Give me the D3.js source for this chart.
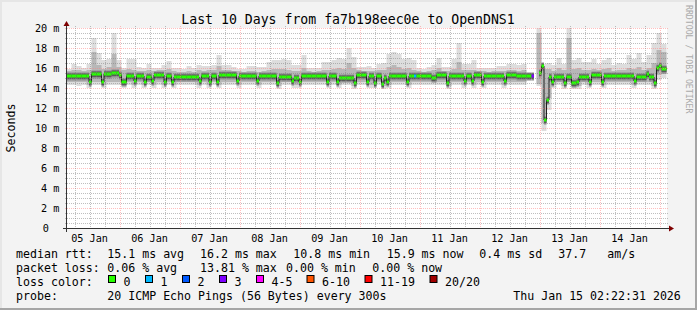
<!DOCTYPE html>
<html><head><meta charset="utf-8">
<script src="https://cdn.jsdelivr.net/npm/d3@7/dist/d3.min.js"></script>
<style>
html,body{margin:0;padding:0;background:#f3f3f3;}
svg{display:block;}
text{font-family:"DejaVu Sans Mono",monospace;fill:#000;}
</style></head><body>
<svg id="c" width="697" height="310"></svg>
<script>
// ---------------- data ----------------
const title = "Last 10 Days from fa7b198eec0e to OpenDNS1";
const startTime = new Date(2026, 0, 5, 2, 22, 31);
const endTime = new Date(2026, 0, 15, 2, 22, 31);
const yTickValues = [0, 2, 4, 6, 8, 10, 12, 14, 16, 18, 20];
const yTickLabels = ["0", "2 m", "4 m", "6 m", "8 m", "10 m", "12 m", "14 m", "16 m", "18 m", "20 m"];
const dayLabels = ["05 Jan", "06 Jan", "07 Jan", "08 Jan", "09 Jan", "10 Jan", "11 Jan", "12 Jan", "13 Jan", "14 Jan"];

// median rtt in ms, one value per hour (240 h)
const medianRtt = [
15.2,15.2,15.2,15.2,15.2,15.2,15.2,15.2,15.2,14.6,15.4,15.4,15.4,15.4,14.6,15.4,15.4,15.4,15.5,15.5,
15.5,15.3,14.6,14.6,15.2,15.2,15.2,14.7,15.2,15.2,15.2,14.6,15.1,15.1,14.7,15.3,15.3,15.3,15.3,14.6,
15.2,15.2,14.6,15.1,15.1,15.1,15.1,15.1,15.1,15.1,15.1,15.1,15.1,14.7,15.2,15.2,15.2,14.6,15.2,15.2,
14.6,15.3,15.3,15.3,15.3,15.3,15.3,15.3,14.7,15.2,15.2,15.2,15.2,15.2,15.2,15.2,14.7,15.2,15.2,15.2,
15.2,15.2,15.2,15.2,14.5,15.1,15.1,15.1,15.1,15.1,14.7,15.0,15.0,14.6,15.2,15.2,15.2,15.2,15.2,15.2,
15.2,15.2,15.2,15.2,14.6,15.2,15.2,15.2,14.6,15.0,15.0,15.0,15.0,15.0,15.0,14.5,15.3,15.3,15.3,15.3,
14.6,15.2,15.2,14.5,15.2,15.2,14.4,15.0,14.6,15.2,15.2,15.2,15.2,15.2,15.2,15.2,14.6,15.2,15.2,15.2,
15.2,15.2,15.2,15.2,15.2,15.2,15.0,15.0,15.3,15.3,15.3,15.3,14.5,15.2,15.2,15.2,15.2,15.2,15.2,14.7,
15.2,15.2,14.7,15.3,15.3,15.3,14.6,15.2,15.2,15.2,15.2,15.2,15.2,15.2,15.2,14.7,15.3,15.3,15.3,15.3,
15.2,15.2,15.2,15.2,15.2,15.2,15.2,null,null,15.5,16.2,10.8,12.8,15.1,14.6,15.1,15.1,15.1,15.1,14.5,
15.1,15.1,14.5,14.5,14.6,15.1,15.1,15.1,15.1,14.6,15.3,15.3,15.3,15.3,14.6,15.2,15.2,15.2,15.2,15.2,
15.2,15.2,15.2,15.2,15.2,15.2,15.2,14.7,15.1,15.1,15.1,15.1,15.4,15.1,15.1,14.5,16.0,16.2,15.9,15.9
];
// hours with packet loss (lost pings out of 20); all other hours: 0
const lossHours = [139, 186];
const lossCounts = [1, 3];

// smoke, one value per 2 hours (120 buckets), ms
const smokeMax = [
15.9,16.4,16.2,16.0,16.4,19.0,17.5,16.8,16.9,19.5,16.8,16.0,16.9,16.9,16.1,16.0,16.4,16.0,16.0,16.3,
16.7,16.0,16.0,15.9,16.2,16.0,16.3,16.2,16.2,16.3,17.3,16.3,16.3,16.1,15.9,15.9,16.2,16.2,16.1,16.1,
16.6,16.8,16.8,16.9,16.8,16.3,16.3,17.3,16.0,16.0,16.0,16.6,16.6,16.8,17.0,16.9,18.0,17.1,16.1,16.1,
16.2,16.0,16.4,16.5,17.4,17.6,17.4,16.9,17.0,16.8,16.0,15.9,16.1,16.3,17.0,16.1,16.1,16.9,18.5,16.4,
16.4,16.8,16.0,16.0,16.0,16.0,16.2,16.2,16.4,16.4,16.3,16.4,16.1,null,20.0,16.4,16.5,16.3,17.0,16.4,
20.0,16.8,17.0,16.6,16.6,16.9,16.4,16.8,17.0,16.3,16.5,16.4,17.3,16.9,17.5,16.6,17.3,18.5,19.5,18.4
];
const smokeHi = [
15.7,15.8,15.8,15.7,15.8,17.6,16.3,15.9,16.1,17.4,16.1,15.8,15.9,15.8,15.7,15.7,15.8,15.7,15.8,15.8,
15.9,15.7,15.6,15.6,15.7,15.6,15.8,15.7,15.8,15.8,16.2,15.8,15.8,15.7,15.7,15.6,15.7,15.7,15.6,15.7,
15.8,15.9,15.9,15.9,15.8,15.7,15.7,16.0,15.7,15.6,15.7,15.8,15.8,15.9,16.0,15.9,16.5,16.0,15.8,15.7,
15.7,15.7,15.8,15.8,16.1,16.3,16.1,15.9,16.0,15.8,15.7,15.6,15.7,15.8,16.0,15.7,15.7,15.9,16.6,15.8,
15.8,15.8,15.7,15.7,15.6,15.7,15.7,15.7,15.8,15.8,15.7,15.8,15.7,null,19.5,15.9,15.9,15.7,16.0,15.8,
19.0,15.9,16.0,15.8,15.8,15.9,15.8,15.9,16.0,15.7,15.8,15.8,16.0,15.9,16.1,15.8,16.0,16.5,17.8,17.6
];
const smokeLo = [
14.6,14.6,14.6,14.6,14.3,14.6,14.6,14.3,14.6,14.6,14.6,14.3,14.6,14.3,14.6,14.3,14.6,14.3,14.6,14.3,
14.6,14.3,14.6,14.6,14.6,14.6,14.3,14.6,14.3,14.6,14.3,14.6,14.6,14.6,14.3,14.6,14.6,14.6,14.3,14.6,
14.6,14.6,14.2,14.6,14.6,14.3,14.3,14.6,14.6,14.6,14.6,14.6,14.3,14.6,14.3,14.6,14.6,14.2,14.6,14.6,
14.3,14.3,14.6,14.2,14.3,14.6,14.6,14.6,14.3,14.6,14.6,14.6,14.6,14.6,14.6,14.6,14.2,14.6,14.6,14.3,
14.6,14.3,14.6,14.3,14.6,14.6,14.6,14.3,14.6,14.6,14.6,14.6,14.6,null,14.4,10.5,13.0,14.3,14.6,14.2,
14.6,14.2,14.2,14.6,14.3,14.6,14.6,14.3,14.6,14.6,14.6,14.6,14.6,14.3,14.6,14.6,14.6,14.2,15.3,15.4
];
const smokeMin = [
14.3,14.3,14.2,14.3,14.0,14.3,14.3,14.0,14.3,14.3,14.3,14.0,14.3,14.0,14.3,14.0,14.3,14.0,14.3,14.0,
14.3,14.0,14.3,14.3,14.3,14.3,14.0,14.3,14.0,14.3,14.0,14.3,14.3,14.3,14.0,14.3,14.3,14.3,14.0,14.3,
14.3,14.3,13.9,14.3,14.3,14.0,14.0,14.3,14.3,14.3,14.3,14.3,14.0,14.3,14.0,14.3,14.3,13.9,14.3,14.3,
14.0,14.0,14.3,13.9,14.0,14.3,14.3,14.3,14.0,14.3,14.3,14.3,14.3,14.3,14.3,14.3,13.9,14.3,14.3,14.0,
14.3,14.0,14.3,14.0,14.3,14.3,14.3,14.0,14.3,14.3,14.3,14.3,14.3,null,14.2,9.7,11.8,14.0,14.3,13.9,
14.3,13.9,13.9,14.3,14.0,14.3,14.3,14.0,14.3,14.3,14.3,14.3,14.3,14.0,14.3,14.3,14.3,13.9,14.8,15.0
];

const lossLegend = ["0", "1", "2", "3", "4-5", "6-10", "11-19", "20/20"];
const lossColors = ["#26ff00", "#00b8ff", "#0059ff", "#7e00ff", "#ff00ff", "#ff5500", "#ff0000", "#a10000"];

const statsRtt = ["15.1 ms avg", "16.2 ms max", "10.8 ms min", "15.9 ms now", "0.4 ms sd", "37.7", "am/s"];
const statsLoss = ["0.06 % avg", "13.81 % max", "0.00 % min", "0.00 % now"];
const probeText = "20 ICMP Echo Pings (56 Bytes) every 300s";
const stampText = "Thu Jan 15 02:22:31 2026";

// ---------------- drawing ----------------
const W = 697, H = 310;
const X0 = 67, X1 = 667, Y0 = 228, Y1 = 28;
const svg = d3.select("#c");

svg.append("rect").attr("width", W).attr("height", H).attr("fill", "#f3f3f3");
// 3D border
svg.append("rect").attr("x", 0).attr("y", 0).attr("width", W).attr("height", 2).attr("fill", "#e6e6e6");
svg.append("rect").attr("x", 0).attr("y", 0).attr("width", 2).attr("height", H).attr("fill", "#e6e6e6");
svg.append("rect").attr("x", 0).attr("y", H - 2).attr("width", W).attr("height", 2).attr("fill", "#a6a6a6");
svg.append("rect").attr("x", W - 2).attr("y", 0).attr("width", 2).attr("height", H).attr("fill", "#a6a6a6");

// canvas
svg.append("rect").attr("x", X0).attr("y", Y1).attr("width", X1 - X0).attr("height", Y0 - Y1).attr("fill", "#ffffff");

const x = d3.scaleTime().domain([startTime, endTime]).range([X0 - 0.5, X1 - 0.5]);
const y = d3.scaleLinear().domain([0, 20]).range([Y0, Y1]);

const g = svg.append("g");
svg.append("clipPath").attr("id", "cp").append("rect")
  .attr("x", X0).attr("y", Y1).attr("width", X1 - X0).attr("height", Y0 - Y1);
g.attr("clip-path", "url(#cp)");

// smoke series
const smoke = smokeMax.map((m, i) => ({
  t: d3.timeHour.offset(startTime, 2 * i), max: m, hi: smokeHi[i], lo: smokeLo[i], min: smokeMin[i]
}));
smoke.push(Object.assign({}, smoke[smoke.length - 1], {t: endTime}));

function band(lo, hi, color) {
  const a = d3.area()
    .defined(d => d[lo] != null && d[hi] != null)
    .x(d => x(d.t)).y0(d => y(d[lo])).y1(d => y(d[hi]))
    .curve(d3.curveStepAfter);
  g.append("path").datum(smoke).attr("d", a).attr("fill", color);
}
band("min", "max", "#dddddd");
band("lo", "hi", "#b7b7b7");

// median series
const med = medianRtt.map((v, j) => ({j: j, t: d3.timeHour.offset(startTime, j), t2: d3.timeHour.offset(startTime, j + 1), v: v}));
const medPts = med.concat([{t: endTime, v: medianRtt[medianRtt.length - 1]}]);
const medLine = d3.line().defined(d => d.v != null).x(d => x(d.t)).y(d => y(d.v)).curve(d3.curveStepAfter);
const medOk = med.filter(d => d.v != null);

// dark smoke core around the median
function core(halfUp, halfDown, color) {
  g.append("g").selectAll("rect").data(medOk).enter().append("rect")
    .attr("x", d => x(d.t)).attr("width", d => x(d.t2) - x(d.t))
    .attr("y", d => y(d.v) - halfUp).attr("height", halfUp + halfDown)
    .attr("fill", color);
}
core(3.5, 4.5, "#8c8c8c");
core(2.5, 3, "#5a5a5a");

g.append("path").datum(medPts).attr("d", medLine).attr("fill", "none")
  .attr("stroke", "#202020").attr("stroke-width", 1);

// loss coloured median band
const lossIndex = c => c === 0 ? 0 : c <= 3 ? c : c <= 5 ? 4 : c <= 10 ? 5 : c <= 19 ? 6 : 7;
g.append("g").selectAll("rect").data(medOk).enter().append("rect")
  .attr("x", d => x(d.t)).attr("width", d => x(d.t2) - x(d.t))
  .attr("y", d => y(d.v) - 1.5).attr("height", 3)
  .attr("fill", d => {
    const k = lossHours.indexOf(d.j);
    return lossColors[lossIndex(k >= 0 ? lossCounts[k] : 0)];
  });

// grid (drawn over graph)
const grid = svg.append("g");
const minorY = d3.range(1, 40).map(k => k / 2).filter(v => v % 2 !== 0);
minorY.forEach(v => {
  const yy = Math.round(y(v)) + 0.5;
  grid.append("line").attr("x1", X0 - 2).attr("x2", X1 + 2).attr("y1", yy).attr("y2", yy)
    .attr("stroke", "rgba(128,128,128,0.5)").attr("stroke-dasharray", "1,1");
});
yTickValues.filter(v => v > 0).forEach(v => {
  const yy = Math.round(y(v)) + 0.5;
  grid.append("line").attr("x1", X0 - 2).attr("x2", X1 + 2).attr("y1", yy).attr("y2", yy)
    .attr("stroke", "rgba(255,128,128,0.5)").attr("stroke-dasharray", "1,1");
});
const minorT = d3.timeHour.every(6).range(startTime, endTime).filter(t => t.getHours() !== 0);
minorT.forEach(t => {
  const xx = Math.floor(x(t)) + 0.5;
  grid.append("line").attr("x1", xx).attr("x2", xx).attr("y1", Y1 - 2).attr("y2", Y0 + 2)
    .attr("stroke", "rgba(128,128,128,0.5)").attr("stroke-dasharray", "1,1");
});
const majorT = d3.timeDay.range(startTime, endTime);
majorT.forEach(t => {
  const xx = Math.floor(x(t)) + 0.5;
  grid.append("line").attr("x1", xx).attr("x2", xx).attr("y1", Y1 - 2).attr("y2", Y0 + 2)
    .attr("stroke", "rgba(255,128,128,0.5)").attr("stroke-dasharray", "1,1");
});

// axes
const axisColor = "#333333";
svg.append("line").attr("x1", X0 - 4).attr("x2", X1 + 4).attr("y1", Y0 + 0.5).attr("y2", Y0 + 0.5)
  .attr("stroke", axisColor);
svg.append("line").attr("x1", X0 - 0.5).attr("x2", X0 - 0.5).attr("y1", Y0 + 4).attr("y2", Y1 - 4)
  .attr("stroke", axisColor);
svg.append("path").attr("d", `M${X1 + 2},${Y0 - 2.5}L${X1 + 2},${Y0 + 3.5}L${X1 + 7},${Y0 + 0.5}Z`).attr("fill", "#7f0000");
svg.append("path").attr("d", `M${X0 - 3.5},${Y1 - 2}L${X0 + 2.5},${Y1 - 2}L${X0 - 0.5},${Y1 - 7}Z`).attr("fill", "#7f0000");

// y labels
yTickValues.forEach((v, i) => {
  svg.append("text").attr("x", v === 0 ? 49 : 59.5).attr("y", y(v) + 3.5)
    .attr("text-anchor", "end").attr("font-size", "10.2px").text(yTickLabels[i]);
});
// x labels (centred at noon)
dayLabels.forEach((lab, i) => {
  const t = d3.timeHour.offset(d3.timeDay.floor(startTime), 24 * i + 12);
  svg.append("text").attr("x", x(t) - 1).attr("y", 241.5)
    .attr("text-anchor", "middle").attr("font-size", "10.2px").text(lab);
});

// title
svg.append("text").attr("x", 348).attr("y", 24).attr("text-anchor", "middle")
  .attr("font-size", "13.2px").text(title);

// unit label
svg.append("text").attr("transform", "translate(15,128) rotate(-90)").attr("text-anchor", "middle")
  .attr("font-size", "11.6px").text("Seconds");
// watermark
svg.append("text").attr("transform", "translate(685.5,5) rotate(90)").attr("text-anchor", "start")
  .attr("font-size", "8.2px").style("fill", "#aaaaaa").text("RRDTOOL / TOBI OETIKER");

// legend
const LF = "11.6px";
function lt(xp, yp, s) {
  svg.append("text").attr("x", xp).attr("y", yp).attr("font-size", LF).attr("xml:space", "preserve").text(s);
}
const row1 = 258, row2 = 272, row3 = 286, row4 = 300;
lt(16, row1, "median rtt:");
const rttX = [107.3, 200, 293.3, 386.7, 479.3, 558.3, 607.3];
statsRtt.forEach((s, i) => lt(rttX[i], row1, s));
lt(16, row2, "packet loss:");
const lossX = [107.3, 200, 286, 372.3];
statsLoss.forEach((s, i) => lt(lossX[i], row2, s));
lt(16, row3, "loss color:");
const boxX = [108.5, 145.5, 182.5, 219.5, 256.5, 307, 365, 430];
lossLegend.forEach((s, i) => {
  svg.append("rect").attr("x", boxX[i]).attr("y", 275.5).attr("width", 7).attr("height", 7)
    .attr("fill", lossColors[i]).attr("stroke", "#000").attr("stroke-width", 1);
  lt(boxX[i] + 15, row3, s);
});
lt(16, row4, "probe:");
lt(107.3, row4, probeText);
lt(513.3, row4, stampText);
</script>
</body></html>
